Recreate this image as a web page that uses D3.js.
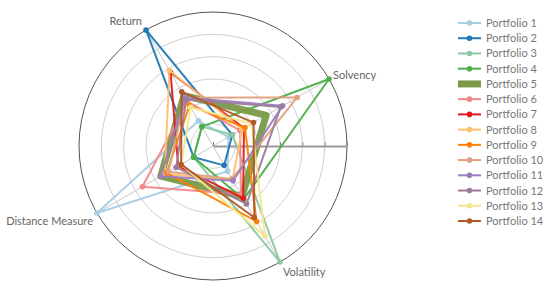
<!DOCTYPE html>
<html>
<head>
<meta charset="utf-8">
<script src="https://cdn.jsdelivr.net/npm/d3@7"></script>
<style>
  body { margin: 0; background: #fff; }
  svg { font-family: "Lato", "DejaVu Sans", sans-serif; }
</style>
</head>
<body>
<div id="chart"></div>
<script>
// Axes and series (values in ring units, 0..6)
var axes = ["Return", "Solvency", "Volatility", "Distance Measure"];
var names = ["Portfolio 1", "Portfolio 2", "Portfolio 3", "Portfolio 4", "Portfolio 5",
             "Portfolio 6", "Portfolio 7", "Portfolio 8", "Portfolio 9", "Portfolio 10",
             "Portfolio 11", "Portfolio 12", "Portfolio 13", "Portfolio 14"];
var returnVals     = [1.3, 6.0, 1.0, 1.0, 2.6, 2.3, 3.8, 3.9, 2.1, 2.5, 2.5, 2.4, 2.0, 2.8];
var solvencyVals   = [0.8, 1.0, 1.0, 6.0, 2.75, 1.4, 1.6, 1.5, 1.65, 4.35, 3.6, 3.5, 2.0, 2.1];
var volatilityVals = [1.3, 1.0, 6.0, 2.75, 2.6, 2.5, 2.7, 1.75, 3.9, 1.7, 1.8, 3.0, 4.65, 3.7];
var distanceVals   = [6.0, 1.0, 1.0, 1.0, 2.7, 3.65, 1.8, 2.5, 2.4, 2.3, 2.7, 1.9, 1.65, 1.65];
var colors = ["#a6cee3", "#1f78b4", "#8cc9a0", "#4daf4a", "#7a9a4a", "#f4878a", "#e31a1c",
              "#fdbf6f", "#ff7f00", "#e0a080", "#9e7cc1", "#9b7b9b", "#f5e68c", "#b15928"];

var svgWidth = 543, svgHeight = 289;
var cx = 213, cy = 146, radius = 134;
var maxVal = 6;

var svg = d3.select("#chart").append("svg")
    .attr("width", svgWidth)
    .attr("height", svgHeight);

var g = svg.append("g").attr("transform", "translate(" + cx + "," + cy + ")");

var r = d3.scaleLinear().domain([0, maxVal]).range([0, radius]);

// angle of each axis (math angle, degrees), first axis at 120deg
function axisAngle(i) { return (120 - i * 90) * Math.PI / 180; }
function pt(i, v) {
    var a = axisAngle(i);
    return [r(v) * Math.cos(a), -r(v) * Math.sin(a)];
}

// grid rings
var rings = d3.range(1, maxVal);
g.selectAll("circle.ring").data(rings).join("circle")
    .attr("class", "ring")
    .attr("r", d => r(d))
    .attr("fill", "none")
    .attr("stroke", "#cfcfcf")
    .attr("stroke-width", 1);

g.append("circle")
    .attr("r", radius)
    .attr("fill", "none")
    .attr("stroke", "#555")
    .attr("stroke-width", 1);

// spokes
g.selectAll("line.spoke").data(axes).join("line")
    .attr("class", "spoke")
    .attr("x1", 0).attr("y1", 0)
    .attr("x2", (d, i) => pt(i, maxVal)[0])
    .attr("y2", (d, i) => pt(i, maxVal)[1])
    .attr("stroke", "#c8c8c8")
    .attr("stroke-width", 1);

// radial scale axis (horizontal, no labels)
var ax = g.append("g")
    .call(d3.axisTop(r).ticks(6).tickSize(4).tickSizeOuter(0).tickFormat(""));
ax.select(".domain").attr("stroke", "#999").attr("stroke-width", 2);
ax.selectAll(".tick line").attr("stroke", "#888").attr("stroke-width", 1);

// series
var series = names.map((n, k) => ({
    name: n,
    color: colors[k],
    values: [returnVals[k], solvencyVals[k], volatilityVals[k], distanceVals[k]]
}));

var line = d3.line().curve(d3.curveLinearClosed);

var sg = g.selectAll("g.series").data(series).join("g").attr("class", "series");
sg.append("path")
    .attr("d", d => line(d.values.map((v, i) => pt(i, v))))
    .attr("fill", "none")
    .attr("stroke", d => d.color)
    .attr("stroke-width", (d, k) => k === 4 ? 7 : 2)
    .attr("stroke-linejoin", "round")
    .attr("opacity", 0.95);
sg.selectAll("circle")
    .data((d, k) => k === 4 ? [] : d.values.map((v, i) => ({p: pt(i, v), c: d.color})))
    .join("circle")
    .attr("cx", d => d.p[0]).attr("cy", d => d.p[1])
    .attr("r", 2.8)
    .attr("fill", d => d.c);

// axis labels
g.selectAll("text.axl").data(axes).join("text")
    .attr("class", "axl")
    .attr("x", (d, i) => pt(i, maxVal)[0] + [ -4, 4, 3, -4 ][i])
    .attr("y", (d, i) => pt(i, maxVal)[1] + [ -5, 0, 14, 12 ][i])
    .attr("text-anchor", (d, i) => i === 0 || i === 3 ? "end" : "start")
    .attr("font-size", 11)
    .attr("fill", "#666")
    .text(d => d);

// legend
var lg = svg.append("g").attr("transform", "translate(458,23)");
var y = d3.scalePoint().domain(names).range([0, 198]);
var item = lg.selectAll("g").data(series).join("g")
    .attr("transform", d => "translate(0," + y(d.name) + ")");
item.append("line")
    .attr("x1", 0).attr("x2", 23)
    .attr("stroke", d => d.color)
    .attr("stroke-width", (d, k) => k === 4 ? 7 : 2);
item.filter((d, k) => k !== 4).append("circle")
    .attr("cx", 11.5).attr("r", 2.8)
    .attr("fill", d => d.color);
item.append("text")
    .attr("x", 28).attr("y", 4)
    .attr("font-size", 11)
    .attr("fill", "#777")
    .text(d => d.name);
</script>
</body>
</html>
